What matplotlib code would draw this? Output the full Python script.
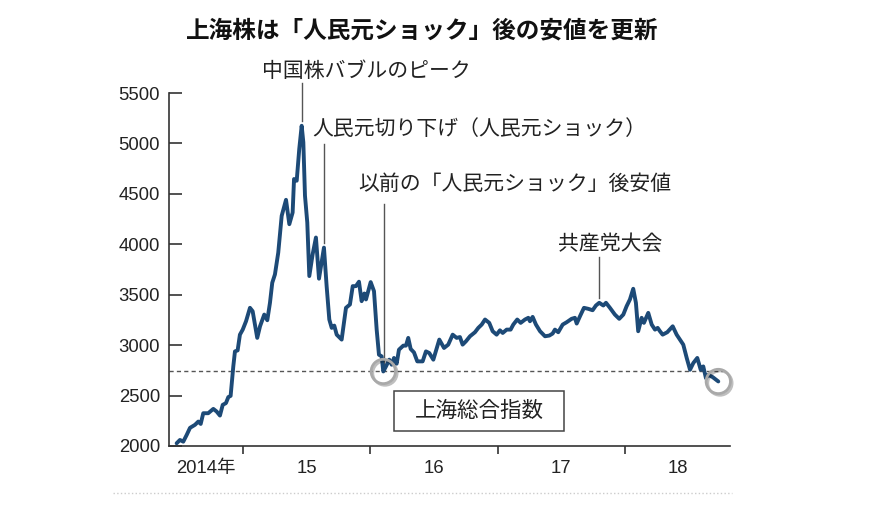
import matplotlib
matplotlib.use("Agg")
import matplotlib.pyplot as plt
import matplotlib.patheffects as pe
from matplotlib.patches import Rectangle
from matplotlib.lines import Line2D

# weekly close of the Shanghai Composite (decimal years)
years = [
    2014.479, 2014.505, 2014.531, 2014.558, 2014.584, 2014.623, 2014.649, 2014.668,
    2014.688, 2014.727, 2014.767, 2014.793, 2014.819, 2014.841, 2014.866, 2014.885,
    2014.903, 2014.924, 2014.937, 2014.958, 2014.976, 2014.998, 2015.024, 2015.055,
    2015.076, 2015.094, 2015.112, 2015.134, 2015.167, 2015.191, 2015.212, 2015.230,
    2015.251, 2015.277, 2015.304, 2015.338, 2015.364, 2015.390, 2015.401, 2015.422,
    2015.442, 2015.461, 2015.474, 2015.487, 2015.505, 2015.521, 2015.547, 2015.573,
    2015.597, 2015.636, 2015.657, 2015.678, 2015.697, 2015.717, 2015.736, 2015.775,
    2015.809, 2015.840, 2015.862, 2015.887, 2015.911, 2015.932, 2015.953, 2015.966,
    2016.003, 2016.029, 2016.050, 2016.068, 2016.089, 2016.102, 2016.123, 2016.149,
    2016.168, 2016.186, 2016.207, 2016.225, 2016.259, 2016.280, 2016.298, 2016.317,
    2016.343, 2016.369, 2016.411, 2016.437, 2016.463, 2016.495, 2016.542, 2016.579,
    2016.612, 2016.647, 2016.678, 2016.704, 2016.725, 2016.751, 2016.783, 2016.822,
    2016.848, 2016.875, 2016.901, 2016.934, 2016.961, 2016.992, 2017.018, 2017.040,
    2017.071, 2017.102, 2017.123, 2017.154, 2017.181, 2017.215, 2017.241, 2017.254,
    2017.275, 2017.301, 2017.333, 2017.372, 2017.406, 2017.432, 2017.450, 2017.476,
    2017.511, 2017.542, 2017.581, 2017.607, 2017.621, 2017.647, 2017.678, 2017.712,
    2017.746, 2017.772, 2017.798, 2017.830, 2017.851, 2017.882, 2017.921, 2017.955,
    2017.987, 2018.013, 2018.039, 2018.065, 2018.086, 2018.104, 2018.131, 2018.149,
    2018.183, 2018.210, 2018.236, 2018.257, 2018.275, 2018.296, 2018.332, 2018.375,
    2018.406, 2018.432, 2018.458, 2018.485, 2018.511, 2018.537, 2018.568, 2018.595,
    2018.615, 2018.636, 2018.654, 2018.689, 2018.733,
]
values = [
    2027, 2060, 2043, 2110, 2180, 2210, 2242, 2219,
    2325, 2325, 2368, 2342, 2302, 2408, 2425, 2485,
    2497, 2789, 2938, 2948, 3104, 3154, 3237, 3370,
    3336, 3204, 3072, 3187, 3303, 3247, 3420, 3619,
    3701, 3917, 4282, 4441, 4199, 4315, 4647, 4630,
    4945, 5175, 5012, 4481, 4216, 3685, 3900, 4067,
    3659, 3967, 3585, 3254, 3171, 3194, 3104, 3055,
    3370, 3403, 3585, 3585, 3629, 3436, 3512, 3453,
    3625, 3535, 3154, 2905, 2889, 2739, 2789, 2856,
    2806, 2873, 2816, 2955, 2995, 2995, 3072, 2962,
    2928, 2839, 2839, 2938, 2922, 2856, 3055, 2972,
    3005, 3104, 3072, 3080, 3005, 3038, 3088, 3128,
    3171, 3204, 3254, 3221, 3138, 3104, 3147, 3121,
    3154, 3154, 3204, 3254, 3221, 3254, 3271, 3237,
    3280, 3204, 3138, 3088, 3095, 3115, 3154, 3128,
    3204, 3227, 3261, 3271, 3214, 3287, 3370, 3360,
    3346, 3393, 3420, 3393, 3420, 3370, 3303, 3261,
    3303, 3386, 3453, 3559, 3420, 3138, 3271, 3221,
    3320, 3204, 3154, 3171, 3138, 3104, 3128, 3187,
    3104, 3055, 3005, 2873, 2756, 2823, 2873, 2756,
    2789, 2673, 2706, 2683, 2640,
]

TITLE = "上海株は「人民元ショック」後の安値を更新"
SERIES_NAME = "上海総合指数"
YEAR_LABELS = ["2014年", "15", "16", "17", "18"]
YEAR_STARTS = [2015, 2016, 2017, 2018]
Y_TICKS = [2000, 2500, 3000, 3500, 4000, 4500, 5000, 5500]

# event labels: (text, x of the marked week, top of leader, label x, label y)
EVENTS = [
    ("中国株バブルのピーク", 2015.461, 5600, 2015.149, 5721),
    ("人民元切り下げ（人民元ショック）", 2015.636, 4990, 2015.542, 5144),
    ("以前の「人民元ショック」後安値", 2016.107, 4400, 2015.903, 4597),
    ("共産党大会", 2017.798, 3870, 2017.474, 4000),
]

LINE_COLOR = "#1d4a77"
AXIS_COLOR = "#333333"
JP = ["Noto Sans CJK JP", "DejaVu Sans"]

plt.rcParams["font.family"] = ["Liberation Sans", "Noto Sans CJK JP", "DejaVu Sans"]

fig = plt.figure(figsize=(8.76, 5.22), dpi=100)
ax = fig.add_axes([169 / 876, 76 / 522, 561 / 876, 353 / 522])

x0, x1 = 2014.419, 2018.825
ax.set_xlim(x0, x1)
ax.set_ylim(2000, 5500)

# previous low after the yuan shock (early 2016) and the latest week
window = values[60:100]
low_i = 60 + window.index(min(window))
prev_low = values[low_i]

ax.plot([x0, 2018.762], [prev_low, prev_low], color="#555555", lw=1,
        ls=(0, (3, 2.3)), zorder=2)

ax.plot(years, values, color=LINE_COLOR, lw=2.8, solid_joinstyle="round",
        solid_capstyle="round", zorder=3)

shadow = [pe.SimpleLineShadow(offset=(1.2, -1.2), shadow_color="black", alpha=0.25),
          pe.Normal()]
for i in (low_i, len(values) - 1):
    ax.plot([years[i]], [values[i]], marker="o", ms=17.5, mfc="none",
            mec="#a9a9a9", mew=2, zorder=4, clip_on=False, path_effects=shadow)

# leader lines and event labels
for text, ex, top, tx, ty in EVENTS:
    j = min(range(len(years)), key=lambda k: abs(years[k] - ex))
    ax.plot([ex, ex], [values[j] + 45, top], color="#555555", lw=1,
            clip_on=False, zorder=2)
    ax.text(tx, ty, text, ha="left", va="center", fontsize=15,
            family=JP, color="#222222")

# series name box
ax.add_patch(Rectangle((2016.186, 2149), 1.335, 398, fill=False,
                       ec="#444444", lw=1.1, zorder=2))
ax.text(2016.853, 2348, SERIES_NAME, ha="center", va="center",
        fontsize=15.5, family=JP, color="#222222")

# axes styling
for side in ("top", "right"):
    ax.spines[side].set_visible(False)
for side in ("left", "bottom"):
    ax.spines[side].set_color(AXIS_COLOR)
    ax.spines[side].set_linewidth(1.2)

ax.set_yticks(Y_TICKS)
ax.tick_params(axis="y", direction="in", length=9.5, width=1.2,
               color=AXIS_COLOR, pad=6.5, labelsize=13.3, labelcolor="#222222")

ax.set_xticks(YEAR_STARTS, labels=[""] * len(YEAR_STARTS))
bounds = [x0] + YEAR_STARTS + [x1]
mids = [(a + b) / 2 for a, b in zip(bounds[:-1], bounds[1:])]
ax.set_xticks(mids, labels=YEAR_LABELS, minor=True)
ax.tick_params(axis="x", which="major", direction="out", length=6,
               width=1.2, color=AXIS_COLOR)
ax.tick_params(axis="x", which="minor", length=0, pad=10, labelsize=13.3,
               labelcolor="#222222")

fig.text(0.482, 0.9425, TITLE, ha="center", va="center", fontsize=17,
         fontweight="bold", family=JP, color="#111111")

fig.add_artist(Line2D([113 / 876, 732 / 876], [0.0556, 0.0556], ls=":",
                      color="#cccccc", lw=1))

fig.savefig("out.png", dpi=100)
